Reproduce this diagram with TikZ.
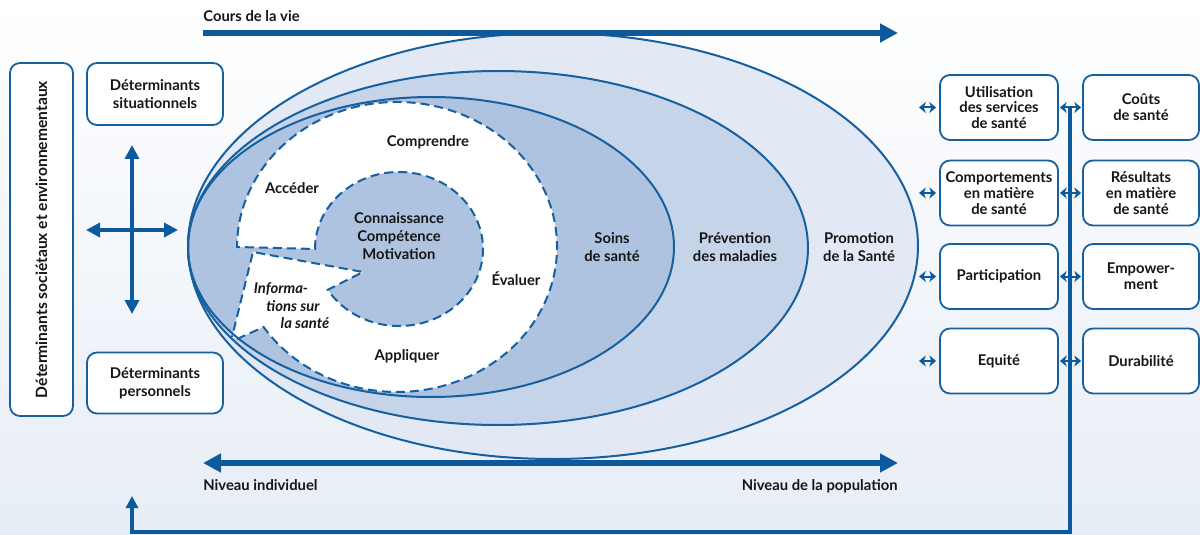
\documentclass[tikz,border=0pt]{standalone}
\usepackage{fontspec}
\setmainfont{Lato}
\usetikzlibrary{arrows.meta}
\definecolor{mblue}{RGB}{12,90,156}
\definecolor{lineblue}{RGB}{22,96,160}
\definecolor{cpromo}{RGB}{226,233,244}
\definecolor{cprev}{RGB}{197,212,233}
\definecolor{csoins}{RGB}{174,195,224}
\definecolor{bgbot}{RGB}{231,237,246}
\definecolor{txtc}{RGB}{22,22,22}
\begin{document}
\begin{tikzpicture}[x=0.5pt,y=-0.5pt,
  lbl/.style={font=\fontsize{7.4}{9}\selectfont\bfseries, text=txtc, align=center, inner sep=0pt},
  ilbl/.style={font=\fontsize{7.4}{9}\selectfont\bfseries\itshape, text=txtc, inner sep=0pt},
  box/.style={font=\fontsize{7.4}{7.9}\selectfont\bfseries, text=txtc, align=center, inner sep=0pt,
     draw=lineblue, line width=0.9pt, fill=white, rounded corners=5pt},
  rbox/.style={box, minimum width=59pt, minimum height=32.5pt},
  bigarrow/.style={draw=mblue, line width=2.6pt},
  crossarrow/.style={draw=mblue, line width=1.8pt, {Triangle[length=7pt,width=7pt]}-{Triangle[length=7pt,width=7pt]}},
  smallarr/.style={draw=mblue, line width=1pt, {Stealth[length=3.4pt,width=5.5pt,inset=1pt]}-{Stealth[length=3.4pt,width=5.5pt,inset=1pt]}},
  fbline/.style={draw=mblue, line width=1.6pt, -{Triangle[length=6pt,width=6pt]}},
  ell/.style={draw=lineblue, line width=1pt}
]
\useasboundingbox (0,0) rectangle (1200,535);
\shade[top color=white, bottom color=bgbot] (0,0) rectangle (1200,535);

% ellipse fills
\fill[cpromo] (553,246) ellipse [x radius=365, y radius=213];
\fill[cprev] (498,248) ellipse [x radius=310, y radius=177];
\fill[csoins] (431,247) ellipse [x radius=243, y radius=150];

% white literacy region
\path[fill=white]
 (237,339) -- (263.6,327) arc[start angle=146.5, end angle=-180, x radius=160, y radius=145]
 -- (315,249) arc[start angle=180, end angle=508, x radius=84, y radius=77]
 -- (363,272) -- (253,252) -- (232,337) -- cycle;

% ellipse outlines
\draw[ell] (553,246) ellipse [x radius=365, y radius=213];
\draw[ell] (498,248) ellipse [x radius=310, y radius=177];
\draw[ell] (431,247) ellipse [x radius=243, y radius=150];

\draw[draw=lineblue, line width=1pt, dash pattern=on 4.5pt off 2.5pt]
 (237,339) -- (263.6,327) arc[start angle=146.5, end angle=-180, x radius=160, y radius=145]
 -- (315,249) arc[start angle=180, end angle=508, x radius=84, y radius=77]
 -- (363,272) -- (253,252) -- (232,337);

% inner texts
\node[lbl] (comp) at (428,142) {Comprendre};
\node[lbl] (acc) at (292,188) {Accéder};
\node[lbl] (conn) at (399,236) {Connaissance\\Compétence\\Motivation};
\node[lbl] (eval) at (516,279) {Évaluer};
\node[lbl] (appl) at (407,356) {Appliquer};
\node[ilbl] (inf1) at (281,289) {Informa-};
\node[ilbl] (inf2) at (293,306) {tions sur};
\node[ilbl] (inf3) at (305,323) {la santé};
\node[lbl] (soins) at (612,247) {Soins\\de santé};
\node[lbl] (prev) at (735,247) {Prévention\\des maladies};
\node[lbl] (promo) at (859,247) {Promotion\\de la Santé};

% top and bottom arrows
\node[lbl, anchor=base west] (cours) at (203,22) {Cours de la vie};
\coordinate (ct1) at (203,33);
\coordinate (ct2) at (898,33);
\draw[bigarrow, -{Triangle[length=9pt,width=9pt]}] (ct1) -- (ct2);
\coordinate (nb1) at (203,463);
\coordinate (nb2) at (898,463);
\draw[bigarrow, {Triangle[length=9pt,width=9pt]}-{Triangle[length=9pt,width=9pt]}] (nb1) -- (nb2);
\node[lbl, anchor=base west] (nind) at (203,490) {Niveau individuel};
\node[lbl, anchor=base east] (npop) at (898,490) {Niveau de la population};

% left boxes
\node[box, minimum width=31.5pt, minimum height=176.5pt] (soc) at (41.5,239.5) {};
\node[lbl, rotate=90, font=\fontsize{7.8}{9}\selectfont\bfseries] (soctxt) at (soc.center) {Déterminants sociétaux et environnementaux};
\node[box, minimum width=68pt, minimum height=31pt, font=\fontsize{7.4}{9}\selectfont\bfseries] (sit) at (155,94) {Déterminants\\situationnels};
\node[box, minimum width=68pt, minimum height=30.5pt, font=\fontsize{7.4}{9}\selectfont\bfseries] (pers) at (155,383) {Déterminants\\personnels};

% cross
\coordinate (cv1) at (132,145);
\coordinate (cv2) at (132,314);
\coordinate (ch1) at (86,230);
\coordinate (ch2) at (178,230);
\draw[crossarrow] (cv1) -- (cv2);
\draw[crossarrow] (ch1) -- (ch2);

% right boxes
\node[rbox] (uti) at (999,107.5) {Utilisation\\des services\\de santé};
\node[rbox] (compt) at (999,193) {Comportements\\en matière\\de santé};
\node[rbox] (part) at (999,276.5) {Participation};
\node[rbox] (equi) at (999,361) {Equité};
\node[rbox, minimum width=58pt] (cout) at (1141,107.5) {Coûts\\de santé};
\node[rbox, minimum width=58pt] (res) at (1141,193) {Résultats\\en matière\\de santé};
\node[rbox, minimum width=58pt] (emp) at (1141,276.5) {Empower-\\ment};
\node[rbox, minimum width=58pt] (dur) at (1141,361) {Durabilité};

% feedback line
\coordinate (f0) at (1070,107.5);
\coordinate (f1) at (1070,532);
\coordinate (f2) at (132,532);
\coordinate (f3) at (132,496);
\draw[fbline] (f0) -- (f1) -- (f2) -- (f3);

% small arrows
\foreach \n/\y in {uti/107.5, compt/193, part/276.5, equi/361}{
  \coordinate (la\n) at (919,\y);
  \draw[smallarr] (la\n) -- ([xshift=-1.5pt]\n.west);
}
\draw[smallarr] ([xshift=0.5pt]uti.east) -- ([xshift=-0.5pt]cout.west);
\draw[smallarr] ([xshift=0.5pt]compt.east) -- ([xshift=-0.5pt]res.west);
\draw[smallarr] ([xshift=0.5pt]part.east) -- ([xshift=-0.5pt]emp.west);
\draw[smallarr] ([xshift=0.5pt]equi.east) -- ([xshift=-0.5pt]dur.west);
\end{tikzpicture}
\end{document}
